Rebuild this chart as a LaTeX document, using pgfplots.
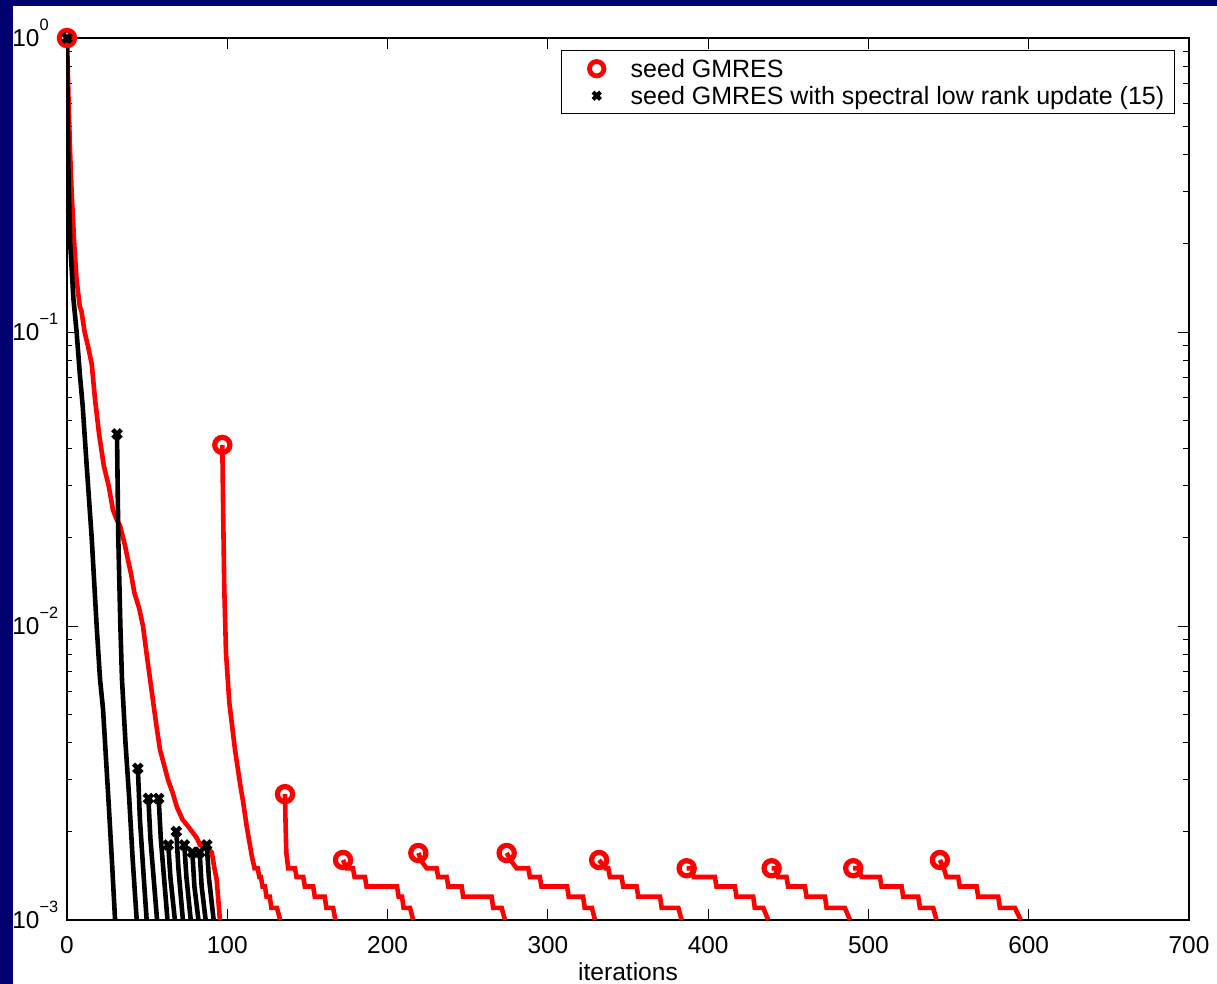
\documentclass[border=0pt]{standalone}
\usepackage{fontspec}
\setmainfont{Liberation Sans}
\usepackage{pgfplots}
\pgfplotsset{compat=1.18}
\definecolor{navybg}{RGB}{0,0,110}
\newcommand{\tp}[1]{10\raisebox{8pt}{\fontsize{8.2}{9}\selectfont #1}}
\pgfplotsset{
  rs/.style={red, line width=2.3pt, mark=o, mark size=3.8pt, mark indices={1}, mark options={solid, line width=2.6pt}},
  bs/.style={black, line width=2.3pt, mark=x, mark size=3pt, mark indices={1}, mark options={solid, line width=2.2pt}},
}
\begin{document}
\begin{tikzpicture}
\fill[navybg] (-33.5pt,-32pt) rectangle (575pt,460pt);
\fill[white] (-27pt,-32pt) rectangle (575pt,457pt);
\begin{axis}[
  scale only axis, width=561pt, height=441pt,
  at={(0,0)}, anchor=south west,
  xmin=0, xmax=700, ymode=log, ymin=1e-3, ymax=1,
  axis line style={line width=0.8pt},
  tick style={line width=0.5pt, black},
  major tick length=5.5pt, minor tick length=2.75pt,
  tick align=inside,
  xtick={0,100,...,700},
  xticklabels={0,100,200,300,400,500,600,700},
  ytick={1e-3,1e-2,1e-1,1},
  yticklabels={\tp{−3},\tp{−2},\tp{−1},\tp{0}},
  tick label style={font=\fontsize{12.2}{14}\selectfont},
  xticklabel style={yshift=-4.6pt},
  yticklabel style={anchor=base west, inner sep=0pt, yshift=-4.3pt, xshift=-27.5pt},
  xlabel={iterations},
  xlabel style={font=\fontsize{12.3}{14}\selectfont, at={(axis description cs:0.5,0)}, anchor=base, yshift=-30pt, inner sep=0pt},
  legend cell align=left,
  legend image code/.code={\path[draw=none,fill=none] (0pt,-1pt) rectangle (29.5pt,1pt); \draw[#1] plot coordinates {(12.5pt,0pt)};},
  legend style={at={(0.98752,0.98639)}, anchor=north east, draw=black, line width=0.7pt, fill=white,
    inner xsep=5pt, inner ysep=4.5pt, row sep=4.5pt,
    font=\fontsize{12.5}{15}\selectfont,
    nodes={inner xsep=0pt, inner ysep=0pt, text height=9pt, text depth=0pt}},
]
% ---- seed GMRES (red) ----
\addplot[rs, forget plot] coordinates {(0,1)(1,0.6)(2,0.4)(3,0.29)(4.5,0.2)(6,0.15)(8,0.122)(9,0.118)(11,0.1)(13,0.09)(15.4,0.078)(17.5,0.059)(20,0.045)(23,0.035)(26,0.03)(28.7,0.0248)(31,0.023)(33,0.022)(36,0.019)(38,0.0168)(40,0.015)(42,0.013)(45,0.0115)(47.4,0.01)(50,0.0078)(53.6,0.0056)(56,0.0045)(58,0.0038)(61,0.0033)(63,0.003)(66,0.0027)(68.6,0.00242)(72,0.0022)(75,0.0021)(78,0.002)(81,0.0019)(83,0.0018)(86,0.00177)(88,0.00175)(90.3,0.0017)(92,0.0015)(93.4,0.00137)(95.4,0.001)};
\addplot[rs, forget plot] coordinates {(96.9,0.0413)(97.5,0.0229)(98.1,0.0136)(99.2,0.0081)(101.3,0.00547)(104.8,0.0038)(108,0.0029)(110,0.0025)(112,0.0021)(115.4,0.00164)(117,0.0015)(119,0.0015)(120,0.0014)(121,0.0014)(122,0.0013)(123.5,0.0013)(124.5,0.0012)(126.5,0.0012)(127.5,0.0011)(131,0.0011)(133,0.001)};
\addplot[rs, forget plot] coordinates {(136,0.00268)(136.3,0.0022)(136.8,0.0017)(138,0.0015)(142.2,0.0015)(143.2,0.0014)(147.4,0.0014)(148.4,0.0013)(153.6,0.0013)(154.6,0.0012)(160.8,0.0012)(161.8,0.0011)(166,0.0011)(167.5,0.001)};
\addplot[rs, forget plot] coordinates {(172.2,0.0016)(174.5,0.0015)(178.4,0.0015)(179.4,0.0014)(185.9,0.0014)(186.9,0.0013)(205.9,0.0013)(206.9,0.0012)(209,0.0012)(210,0.0011)(214,0.0011)(216,0.001)};
\addplot[rs, forget plot] coordinates {(219.2,0.00169)(221.3,0.00158)(224.4,0.0015)(230.6,0.0015)(231.6,0.0014)(236.9,0.0014)(237.9,0.0013)(246.2,0.0013)(247.2,0.0012)(264.9,0.0012)(265.9,0.0011)(271.2,0.0011)(273.2,0.001)};
\addplot[rs, forget plot] coordinates {(274.3,0.00169)(277.4,0.00158)(280.5,0.0015)(287.8,0.0015)(288.8,0.0014)(295,0.0014)(296,0.0013)(312,0.0013)(313,0.0012)(322,0.0012)(323,0.0011)(327.5,0.0011)(329.4,0.001)};
\addplot[rs, forget plot] coordinates {(332,0.0016)(336,0.0015)(337.7,0.0015)(338.7,0.0014)(346,0.0014)(347,0.0013)(355.4,0.0013)(356.4,0.0012)(370,0.0012)(371,0.0011)(381.4,0.0011)(383.5,0.001)};
\addplot[rs, forget plot] coordinates {(386.6,0.0015)(390,0.0015)(391,0.0014)(404.2,0.0014)(405.2,0.0013)(416.7,0.0013)(417.7,0.0012)(428.1,0.0012)(429.1,0.0011)(434.4,0.0011)(437.5,0.001)};
\addplot[rs, forget plot] coordinates {(439.6,0.0015)(442,0.0015)(443.7,0.0014)(448.9,0.0014)(449.9,0.0013)(460.4,0.0013)(461.4,0.0012)(472.9,0.0012)(473.9,0.0011)(485.3,0.0011)(488.5,0.001)};
\addplot[rs, forget plot] coordinates {(490.5,0.0015)(494,0.0015)(495.7,0.0014)(507.2,0.0014)(508.2,0.0013)(520.7,0.0013)(521.7,0.0012)(531.1,0.0012)(532.1,0.0011)(540.4,0.0011)(542.5,0.001)};
\addplot[rs, forget plot] coordinates {(544.6,0.0016)(547,0.0015)(548.7,0.0014)(556,0.0014)(557,0.0013)(567.5,0.0013)(568.5,0.0012)(581,0.0012)(582,0.0011)(591.4,0.0011)(595,0.001)};
% ---- seed GMRES with spectral low rank update (black) ----
\addplot[bs, forget plot] coordinates {(0,1)(0.5,0.5)(1,0.33)(2,0.2)(4,0.13)(6,0.1)(8,0.072)(9.8,0.056)(12,0.037)(15.4,0.02)(18.5,0.01)(20.6,0.0066)(22.5,0.0052)(25.8,0.0026)(28,0.0016)(30,0.001)};
\addplot[bs, forget plot] coordinates {(31.2,0.045)(32,0.02)(33.3,0.01)(34.3,0.0066)(36.5,0.004)(38.8,0.0026)(41,0.0016)(43.5,0.001)};
\addplot[bs, forget plot] coordinates {(44.2,0.00328)(45.5,0.0022)(47.5,0.0015)(49.7,0.001)};
\addplot[bs, forget plot] coordinates {(50.8,0.00259)(52,0.0019)(54,0.0014)(56.2,0.001)};
\addplot[bs, forget plot] coordinates {(57.2,0.00259)(58.5,0.0019)(60.5,0.0014)(62.7,0.001)};
\addplot[bs, forget plot] coordinates {(63.2,0.0018)(64.5,0.0014)(67.3,0.001)};
\addplot[bs, forget plot] coordinates {(68.2,0.002)(69.5,0.0015)(72.3,0.001)};
\addplot[bs, forget plot] coordinates {(73.2,0.0018)(74.5,0.0014)(77.2,0.001)};
\addplot[bs, forget plot] coordinates {(78.2,0.0017)(79.5,0.0013)(82,0.001)};
\addplot[bs, forget plot] coordinates {(82.8,0.0017)(84,0.0013)(86.5,0.001)};
\addplot[bs, forget plot] coordinates {(87.2,0.0018)(88.5,0.0014)(91.5,0.001)};
% ---- legend ----
\addlegendimage{only marks, mark=o, red, mark size=3.6pt, line width=2.4pt}
\addlegendentry{seed GMRES}
\addlegendimage{only marks, mark=x, black, mark size=2.6pt, line width=2pt}
\addlegendentry{seed GMRES with spectral low rank update (15)}
\end{axis}
\end{tikzpicture}
\end{document}
